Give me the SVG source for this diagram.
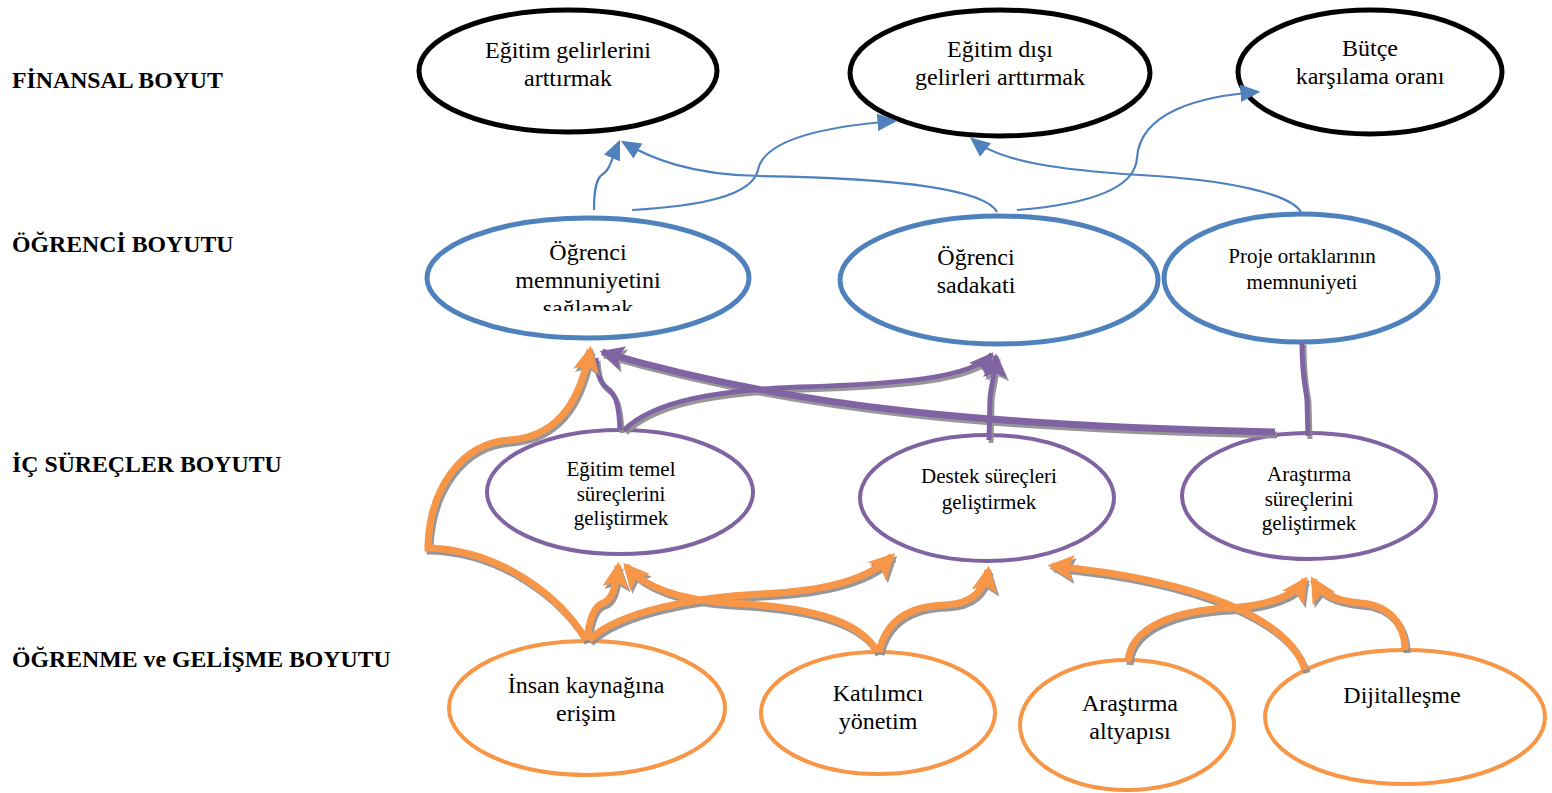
<svg xmlns="http://www.w3.org/2000/svg" width="1552" height="793" viewBox="0 0 1552 793">
<style>
.lbl{font-family:"Liberation Serif",serif;font-weight:bold;font-size:23.8px;fill:#000}
.t{font-family:"Liberation Serif",serif;font-size:24px;fill:#000;text-anchor:middle}
.ts{font-family:"Liberation Serif",serif;font-size:21px;fill:#000;text-anchor:middle}
.nb{fill:#fff;stroke:#000;stroke-width:5}
.nbl{fill:#fff;stroke:#4F81BD;stroke-width:5}
.np{fill:#fff;stroke:#8064A2;stroke-width:4}
.no{fill:#fff;stroke:#F79646;stroke-width:4}
.cb{fill:none;stroke:#4F81BD;stroke-width:2.2}
.cp{fill:none;stroke:#8064A2;stroke-width:5}
.co{fill:none;stroke:#F79646;stroke-width:7}
</style>
<defs>
<marker id="ab" markerUnits="userSpaceOnUse" markerWidth="20" markerHeight="20" refX="14" refY="7" orient="auto" viewBox="0 0 16 14"><path d="M0,0 L16,7 L0,14 z" fill="#4F81BD"/></marker>
<marker id="ap" markerUnits="userSpaceOnUse" markerWidth="24" markerHeight="24" refX="18" refY="10" orient="auto" viewBox="0 0 20 20"><path d="M0,0 L20,10 L0,20 L4,10 z" fill="#8064A2"/></marker>
<marker id="ao" markerUnits="userSpaceOnUse" markerWidth="26" markerHeight="26" refX="20" refY="12" orient="auto" viewBox="0 0 24 24"><path d="M0,0 L24,12 L0,24 L5,12 z" fill="#F79646"/></marker>
<filter id="sh" x="-10%" y="-10%" width="120%" height="130%"><feDropShadow dx="2" dy="3" stdDeviation="0.6" flood-color="#8c8c8c" flood-opacity="0.9"/></filter>
<clipPath id="clipS"><rect x="427" y="218" width="322" height="93"/></clipPath>
</defs>
<rect width="1552" height="793" fill="#fff"/>
<g id="labels">
<text class="lbl" x="12" y="88">FİNANSAL BOYUT</text>
<text class="lbl" x="12" y="252">ÖĞRENCİ BOYUTU</text>
<text class="lbl" x="12" y="472">İÇ SÜREÇLER BOYUTU</text>
<text class="lbl" x="12" y="667">ÖĞRENME ve GELİŞME BOYUTU</text>
</g>
<g id="n_egitim_gelir"><ellipse class="nb" cx="568" cy="71" rx="149" ry="61"/><text class="t" x="568" y="58">Eğitim gelirlerini</text><text class="t" x="568" y="86">arttırmak</text></g>
<g id="n_egitim_disi"><ellipse class="nb" cx="1000" cy="73" rx="150" ry="63"/><text class="t" x="1000" y="57">Eğitim dışı</text><text class="t" x="1000" y="85">gelirleri arttırmak</text></g>
<g id="n_butce"><ellipse class="nb" cx="1370" cy="72" rx="132" ry="62"/><text class="t" x="1370" y="56">Bütçe</text><text class="t" x="1370" y="84">karşılama oranı</text></g>
<g id="n_ogr_memn"><ellipse class="nbl" cx="588" cy="278" rx="161" ry="60"/><g clip-path="url(#clipS)"><text class="t" x="588" y="260">Öğrenci</text><text class="t" x="588" y="288">memnuniyetini</text><text class="t" x="588" y="316">sağlamak</text></g></g>
<g id="n_ogr_sad"><ellipse class="nbl" cx="999" cy="280" rx="159" ry="64"/><text class="t" x="976" y="265">Öğrenci</text><text class="t" x="976" y="293">sadakati</text></g>
<g id="n_proje"><ellipse class="nbl" cx="1301" cy="278" rx="137" ry="64"/><text class="ts" x="1302" y="263">Proje ortaklarının</text><text class="ts" x="1302" y="289">memnuniyeti</text></g>
<g id="n_egitim_temel"><ellipse class="np" cx="620" cy="492" rx="133" ry="62"/><text class="ts" x="621" y="476">Eğitim temel</text><text class="ts" x="621" y="501">süreçlerini</text><text class="ts" x="621" y="525">geliştirmek</text></g>
<g id="n_destek"><ellipse class="np" cx="987" cy="498" rx="127" ry="63"/><text class="ts" x="989" y="483">Destek süreçleri</text><text class="ts" x="989" y="509">geliştirmek</text></g>
<g id="n_arastirma_sur"><ellipse class="np" cx="1309" cy="496" rx="127" ry="63"/><text class="ts" x="1309" y="481">Araştırma</text><text class="ts" x="1309" y="506">süreçlerini</text><text class="ts" x="1309" y="530">geliştirmek</text></g>
<g id="n_insan"><ellipse class="no" cx="587" cy="708" rx="138" ry="67"/><text class="t" x="586" y="693">İnsan kaynağına</text><text class="t" x="586" y="721">erişim</text></g>
<g id="n_katilimci"><ellipse class="no" cx="878" cy="713" rx="117" ry="61"/><text class="t" x="878" y="701">Katılımcı</text><text class="t" x="878" y="729">yönetim</text></g>
<g id="n_arastirma_alt"><ellipse class="no" cx="1127" cy="725" rx="107" ry="65"/><text class="t" x="1130" y="711">Araştırma</text><text class="t" x="1130" y="739">altyapısı</text></g>
<g id="n_dijital"><ellipse class="no" cx="1405" cy="717" rx="140" ry="67"/><text class="t" x="1402" y="703">Dijitalleşme</text></g>
<g id="connectors">
<g id="blue">
<path class="cb" d="M594,210 C594,190 596,178 603,174 C610,170 612,158 619,142" marker-end="url(#ab)"/>
<path class="cb" d="M997,212 C985,190 900,178 760,176 C690,175 650,158 623,142" marker-end="url(#ab)"/>
<path class="cb" d="M632,210 C700,206 752,196 758,170 C764,138 830,126 895,121" marker-end="url(#ab)"/>
<path class="cb" d="M1017,210 C1080,205 1135,192 1137,158 C1140,112 1200,96 1258,92" marker-end="url(#ab)"/>
<path class="cb" d="M1301,212 C1290,194 1230,180 1140,175 C1060,170 1000,162 972,139" marker-end="url(#ab)"/>
</g>
<g id="purple" filter="url(#sh)">
<path class="cp" d="M620,430 C619,405 616,394 607,388 C599,382 597,372 596,358"/>
<path class="cp" d="M624,430 C655,400 720,390 800,387 C900,384 972,378 992,354" marker-end="url(#ap)"/>
<path class="cp" d="M989,440 L990,400 C990,388 995,378 996,356" marker-end="url(#ap)"/>
<path class="cp" d="M1308,436 L1307,400 C1306,388 1302,380 1302,342"/>
<path class="cp" style="stroke-width:7" d="M1275,432 C1000,426 800,410 602,352" marker-end="url(#ap)"/>
</g>
<g id="orange" filter="url(#sh)">
<path class="co" d="M586,640 C560,596 500,550 428,548 L428,545 C430,490 460,443 510,440 C565,436 582,390 590,350" marker-end="url(#ao)"/>
<path class="co" d="M587,640 C589,620 594,606 603,603 C612,600 615,590 618,566" marker-end="url(#ao)"/>
<path class="co" d="M589,640 C620,610 700,597 760,594 C830,591 870,578 892,556" marker-end="url(#ao)"/>
<path class="co" d="M877,652 C860,618 800,606 730,603 C680,600 645,588 626,566" marker-end="url(#ao)"/>
<path class="co" d="M879,652 C886,620 910,606 945,605 C975,604 985,588 988,570" marker-end="url(#ao)"/>
<path class="co" d="M1305,670 C1290,620 1200,580 1052,566" marker-end="url(#ao)"/>
<path class="co" d="M1128,662 C1130,625 1180,610 1230,608 C1270,605 1295,595 1305,580" marker-end="url(#ao)"/>
<path class="co" d="M1405,650 C1405,625 1390,605 1360,603 C1330,600 1320,592 1313,580" marker-end="url(#ao)"/>
</g>
</g>
</svg>
